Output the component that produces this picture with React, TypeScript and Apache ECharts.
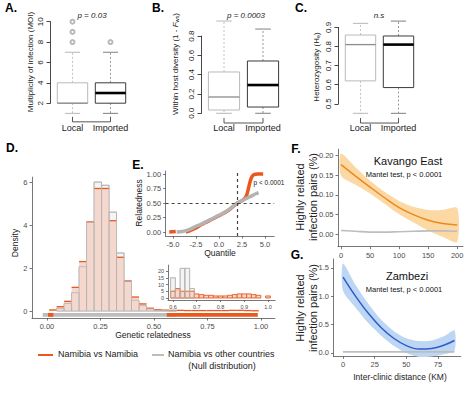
import React, { useEffect, useRef } from "react";
import * as echarts from "echarts";

const FONT = "'Liberation Sans', Arial, Helvetica, sans-serif";

// ---------- Panels A-C (box plots) ----------
const groups = ["Local", "Imported"];
// [lower whisker, q1, median, q3, upper whisker]
const moiBox = [
  [1, 2, 2, 4, 7],
  [1, 2, 3, 4, 7],
];
const moiOutliers = [
  [0, 8],
  [0, 9],
  [0, 10],
  [1, 8],
];
const moiTicks = [2, 4, 6, 8, 10];
const fwsBox = [
  [0.0, 0.034, 0.169, 0.428, 0.956],
  [0.0, 0.065, 0.293, 0.542, 0.873],
];
const fwsTicks = [0, 0.2, 0.4, 0.6, 0.8];
const heBox = [
  [0.45, 0.62, 0.81, 0.86, 0.921],
  [0.45, 0.585, 0.81, 0.855, 0.933],
];
const heTicks = [0.5, 0.6, 0.7, 0.8, 0.9];

// ---------- Panel D (histogram of genetic relatedness) ----------
const relEdges = [
  0.01, 0.045, 0.08, 0.115, 0.15, 0.185, 0.22, 0.255, 0.29, 0.325, 0.36, 0.395,
  0.43, 0.465, 0.5, 0.535, 0.57, 0.605, 0.64, 0.675, 0.71, 0.745, 0.78, 0.815,
  0.85, 0.885, 0.92, 0.955, 0.99,
];
const densNamibia = [
  0.05, 0.2, 0.45, 1.1, 2.3, 4.15, 5.7, 5.7, 4.2, 2.5, 1.4, 0.65, 0.33, 0.13,
  0.06, 0.04, 0.03, 0.03, 0.02, 0.02, 0.02, 0.02, 0.02, 0.02, 0.03, 0.03, 0.02,
  0.01,
];
const densNull = [
  0, 0.12, 0.35, 0.85, 2.06, 4.15, 6.0, 5.85, 4.6, 2.7, 1.4, 0.5, 0.25, 0.1,
  0.04, 0.02, 0.01, 0, 0, 0, 0, 0, 0, 0, 0, 0, 0, 0,
];
const rugNull = [[-0.02, 0.6]];
const rugNamibia = [
  [0.005, 0.03],
  [0.56, 0.985],
];

// ---------- Panel E (QQ plot + inset) ----------
const qqNullX = [-4.6, -4.0, -3.5, -3.0, -2.5, -2.0, -1.5, -1.0, -0.5, 0, 0.5, 1.0, 1.5, 2.0, 2.5, 3.0, 3.5, 4.0, 4.3];
const qqNullY = [0.0, 0.01, 0.03, 0.06, 0.1, 0.13, 0.17, 0.21, 0.25, 0.29, 0.33, 0.38, 0.44, 0.5, 0.54, 0.58, 0.62, 0.66, 0.68];
const qqNamLowX = [-5.4, -4.7];
const qqNamLowY = [0.0, 0.01];
const qqNamX = [-3.6, -3.2, -2.8, -2.4, -2.0, -1.5, -1.0, 0, 1.0, 2.0, 2.5, 2.8, 3.0, 3.2, 3.4, 3.6, 3.8, 4.2, 4.8];
const qqNamY = [0.0, 0.02, 0.05, 0.08, 0.12, 0.16, 0.2, 0.28, 0.37, 0.5, 0.54, 0.58, 0.63, 0.75, 0.88, 0.96, 0.99, 1.0, 1.0];
const qqThresholdY = 0.5;
const qqThresholdX = 2.0;

const insetEdges = [
  0.59, 0.61, 0.63, 0.65, 0.67, 0.69, 0.71, 0.73, 0.75, 0.77, 0.79, 0.81, 0.83,
  0.85, 0.87, 0.89, 0.91, 0.93, 0.95, 0.97, 0.99, 1.01,
];
const insetNamibia = [5, 7, 5, 5, 5, 3, 2.5, 2, 2, 1.5, 1.5, 1.5, 2, 2.5, 3, 3, 3, 2.5, 2, 0, 1.5];
const insetNull = [15, 6, 22, 22, 7, 0, 0, 0, 0, 0, 0, 0, 0, 0, 0, 0, 0, 0, 0, 0, 0];

// ---------- Panel F (Kavango East) ----------
const fDist = [0, 25, 50, 75, 100, 125, 150, 175, 200];
const fFit = [0.177, 0.148, 0.12, 0.093, 0.068, 0.05, 0.036, 0.028, 0.024];
const fLo = [0.149, 0.126, 0.104, 0.078, 0.051, 0.03, 0.01, -0.006, -0.019];
const fHi = [0.205, 0.17, 0.136, 0.108, 0.085, 0.07, 0.062, 0.062, 0.067];
const fNull = [0.01, 0.008, 0.006, 0.006, 0.007, 0.008, 0.009, 0.009, 0.008];

// ---------- Panel G (Zambezi) ----------
const gDist = [0, 10, 20, 30, 40, 50, 60, 70, 80, 88];
const gFit = [1.34, 1.0, 0.7, 0.45, 0.26, 0.13, 0.07, 0.08, 0.14, 0.22];
const gLo = [1.1, 0.8, 0.53, 0.31, 0.13, 0.0, -0.07, -0.06, -0.02, 0.04];
const gHi = [1.58, 1.2, 0.87, 0.59, 0.39, 0.26, 0.21, 0.22, 0.3, 0.4];
const gNull = [0.02, 0.02, 0.02, 0.02, 0.02, 0.02, 0.02, 0.02, 0.02, 0.02];

// ---------- colours ----------
const ORANGE = "#e9581f";
const PINK = "#f4d8cd";
const GREY = "#b4b4b4";

// ---------- render helpers ----------
const boxRender = (params: any, api: any) => {
  const c = api.value(0);
  const lw = api.value(1), q1 = api.value(2), med = api.value(3), q3 = api.value(4), uw = api.value(5);
  const cx = api.coord([c, med])[0];
  const half = api.size([1, 0])[0] * 0.4;
  const py = (v: number) => api.coord([c, v])[1];
  const dark = c === 1;
  const edge = dark ? "#3a3a3a" : "#b9b9b9";
  const wh = dark ? "#8a8a8a" : "#bdbdbd";
  const medC = dark ? "#000" : "#8c8c8c";
  const medW = dark ? 2.6 : 1.3;
  const cap = half * 0.5;
  return {
    type: "group",
    children: [
      { type: "line", shape: { x1: cx, y1: py(q3), x2: cx, y2: py(uw) }, style: { stroke: wh, lineWidth: 0.9, lineDash: [2, 2] } },
      { type: "line", shape: { x1: cx, y1: py(q1), x2: cx, y2: py(lw) }, style: { stroke: wh, lineWidth: 0.9, lineDash: [2, 2] } },
      { type: "line", shape: { x1: cx - cap, y1: py(uw), x2: cx + cap, y2: py(uw) }, style: { stroke: wh, lineWidth: 1.1 } },
      { type: "line", shape: { x1: cx - cap, y1: py(lw), x2: cx + cap, y2: py(lw) }, style: { stroke: wh, lineWidth: 1.1 } },
      { type: "rect", shape: { x: cx - half, y: py(q3), width: 2 * half, height: py(q1) - py(q3) }, style: { fill: "#fff", stroke: edge, lineWidth: 1 } },
      { type: "line", shape: { x1: cx - half, y1: py(med), x2: cx + half, y2: py(med) }, style: { stroke: medC, lineWidth: medW } },
    ],
  };
};

// rotated R-style tick labels for the box-plot y axes
const tickLabelRender = (fmt: (v: number) => string) => (params: any, api: any) => {
  const v = api.value(1);
  const p = api.coord([0, v]);
  return {
    type: "text",
    x: params.coordSys.x - 9,
    y: p[1],
    rotation: Math.PI / 2,
    style: { text: fmt(v), textAlign: "center", textVerticalAlign: "bottom", fontSize: 8, fill: "#222", fontFamily: FONT },
  };
};

const bracketRender = (lo: number) => (params: any, api: any) => {
  const a = api.coord([0, lo]);
  const b = api.coord([1, lo]);
  const y0 = a[1] + 1;
  const y1 = a[1] + 6;
  return {
    type: "polyline",
    shape: { points: [[a[0], y0], [a[0], y1], [b[0], y1], [b[0], y0]] },
    style: { stroke: "#444", lineWidth: 0.9, fill: "none" },
  };
};

const histRender = (fill: string, stroke: string, lw: number) => (params: any, api: any) => {
  const x0 = api.value(0), x1 = api.value(1), h = api.value(2);
  if (!h) return null;
  const p0 = api.coord([x0, 0]);
  const p1 = api.coord([x1, h]);
  return {
    type: "rect",
    shape: { x: p0[0], y: p1[1], width: p1[0] - p0[0], height: p0[1] - p1[1] },
    style: { fill, stroke, lineWidth: lw },
  };
};

// filled bar with only its top edge outlined
const histTopRender = (fill: string, stroke: string, lw: number) => (params: any, api: any) => {
  const x0 = api.value(0), x1 = api.value(1), h = api.value(2);
  if (!h) return null;
  const p0 = api.coord([x0, 0]);
  const p1 = api.coord([x1, h]);
  return {
    type: "group",
    children: [
      { type: "rect", shape: { x: p0[0], y: p1[1], width: p1[0] - p0[0], height: p0[1] - p1[1] }, style: { fill } },
      { type: "line", shape: { x1: p0[0], y1: p1[1], x2: p1[0], y2: p1[1] }, style: { stroke, lineWidth: lw } },
    ],
  };
};

const rugRender = (color: string) => (params: any, api: any) => {
  const p0 = api.coord([api.value(0), -0.09]);
  const p1 = api.coord([api.value(1), -0.27]);
  return {
    type: "rect",
    shape: { x: p0[0], y: p0[1], width: Math.max(1, p1[0] - p0[0]), height: p1[1] - p0[1] },
    style: { fill: color },
  };
};

const bandRender = (xs: number[], lo: number[], hi: number[], color: string) => (params: any, api: any) => {
  if (params.dataIndex !== 0) return null;
  const pts: number[][] = [];
  for (let i = 0; i < xs.length; i++) pts.push(api.coord([xs[i], hi[i]]));
  for (let i = xs.length - 1; i >= 0; i--) pts.push(api.coord([xs[i], lo[i]]));
  return { type: "polygon", shape: { points: pts, smooth: 0.25 }, style: { fill: color } };
};

const histData = (edges: number[], vals: number[]) => vals.map((v, i) => [edges[i], edges[i + 1], v]);
const pairs = (xs: number[], ys: number[]) => xs.map((x, i) => [x, ys[i]]);
const lo4 = (box: number[][]) => {
  const mn = Math.min(...box.map((b) => b[0]));
  const mx = Math.max(...box.map((b) => b[4]));
  return mn - 0.04 * (mx - mn);
};

// ---------- text helper ----------
const txt = (text: string, x: number, y: number, o: any = {}) => ({
  type: "text",
  x,
  y,
  rotation: o.rot || 0,
  silent: true,
  style: {
    text,
    fill: o.color || "#222",
    fontSize: o.size || 8,
    fontFamily: FONT,
    fontWeight: o.bold ? "bold" : "normal",
    fontStyle: o.italic ? "italic" : "normal",
    textAlign: o.align || "center",
    textVerticalAlign: "middle",
    lineHeight: o.lh,
    rich: o.rich,
  },
});

const ROT = Math.PI / 2;

// ---------- axis helpers ----------
const catX = (gi: number, margin: number) => ({
  type: "category",
  gridIndex: gi,
  data: groups,
  axisLine: { show: false },
  axisTick: { show: false },
  axisLabel: { fontSize: 9, color: "#222", margin, fontFamily: FONT, interval: 0, hideOverlap: false },
});
const boxY = (gi: number, min: number, max: number, interval: number) => ({
  type: "value",
  gridIndex: gi,
  min,
  max,
  interval,
  offset: 3,
  splitLine: { show: false },
  axisLine: { show: true, lineStyle: { color: "#333", width: 0.9 } },
  axisTick: { show: true, length: 4, lineStyle: { color: "#333", width: 0.9 } },
  axisLabel: { show: false },
});
const gg = (gi: number, min: number, max: number, ticks: number[], fmt: (v: number) => string, size = 7.5, tick = 2.5) => ({
  type: "value",
  gridIndex: gi,
  min,
  max,
  splitLine: { show: false },
  axisLine: { show: true, onZero: false, lineStyle: { color: "#555", width: 0.8 } },
  axisTick: { show: true, length: tick, customValues: ticks, lineStyle: { color: "#555", width: 0.8 } },
  axisLabel: { fontSize: size, color: "#4d4d4d", margin: tick + 2, customValues: ticks, formatter: fmt, fontFamily: FONT },
});

function buildOption(): any {
  const f1 = (v: number) => v.toFixed(1);
  const f2 = (v: number) => v.toFixed(2);
  const f0 = (v: number) => String(v);
  const ticks = (gi: number, vals: number[], fmt: (v: number) => string) => ({
    type: "custom",
    xAxisIndex: gi,
    yAxisIndex: gi,
    renderItem: tickLabelRender(fmt),
    data: vals.map((v) => [0, v]),
    encode: { x: 0, y: 1 },
  });
  return {
    animation: false,
    backgroundColor: "#fff",
    textStyle: { fontFamily: FONT },
    grid: [
      { left: 53.5, top: 21.7, width: 76, height: 81.5 }, // A
      { left: 204.5, top: 36.1, width: 78, height: 77.2 }, // B
      { left: 341.5, top: 27.4, width: 76, height: 76.4 }, // C
      { left: 32, top: 177.1, width: 242.9, height: 141 }, // D
      { left: 165.6, top: 171, width: 108.6, height: 65.1 }, // E
      { left: 168, top: 265.1, width: 107.1, height: 34.9 }, // E inset
      { left: 338, top: 149.2, width: 125, height: 97.5 }, // F
      { left: 333.5, top: 258.9, width: 127.3, height: 97.5 }, // G
    ],
    xAxis: [
      catX(0, 20),
      catX(1, 10),
      catX(2, 19.7),
      gg(3, -0.07, 1.065, [0, 0.25, 0.5, 0.75, 1], f2),
      gg(4, -5.8, 6.0, [-5, -2.5, 0, 2.5, 5], f1),
      gg(5, 0.579, 1.03, [0.6, 0.7, 0.8, 0.9, 1.0], f1, 5.5, 2),
      gg(6, -5.2, 210, [0, 50, 100, 150, 200], f0),
      gg(7, -7.5, 93, [0, 25, 50, 75], f0),
    ],
    yAxis: [
      boxY(0, 2, 10, 2),
      boxY(1, 0, 0.8, 0.2),
      boxY(2, 0.5, 0.9, 0.1),
      gg(3, -0.33, 6.23, [0, 2, 4, 6], f0),
      gg(4, -0.07, 1.052, [0, 0.25, 0.5, 0.75, 1], f2),
      gg(5, -1.5, 24.4, [0, 5, 10, 15, 20], f0, 5.5, 2),
      gg(6, -0.031, 0.216, [0, 0.05, 0.1, 0.15, 0.2], f2),
      gg(7, -0.06, 1.66, [0, 0.5, 1, 1.5], f1),
    ],
    series: [
      // A
      { type: "custom", xAxisIndex: 0, yAxisIndex: 0, renderItem: boxRender, data: moiBox.map((b, i) => [i, ...b]), encode: { x: 0, y: [1, 2, 3, 4, 5] } },
      { type: "scatter", xAxisIndex: 0, yAxisIndex: 0, symbol: "emptyCircle", symbolSize: 4, itemStyle: { color: "#a8a8a8", borderWidth: 1 }, data: moiOutliers },
      { type: "custom", xAxisIndex: 0, yAxisIndex: 0, renderItem: bracketRender(lo4(moiBox)), data: [[0, lo4(moiBox)]], encode: { x: 0, y: 1 } },
      ticks(0, moiTicks, f0),
      // B
      { type: "custom", xAxisIndex: 1, yAxisIndex: 1, renderItem: boxRender, data: fwsBox.map((b, i) => [i, ...b]), encode: { x: 0, y: [1, 2, 3, 4, 5] } },
      { type: "custom", xAxisIndex: 1, yAxisIndex: 1, renderItem: bracketRender(lo4(fwsBox)), data: [[0, lo4(fwsBox)]], encode: { x: 0, y: 1 } },
      ticks(1, fwsTicks, f1),
      // C
      { type: "custom", xAxisIndex: 2, yAxisIndex: 2, renderItem: boxRender, data: heBox.map((b, i) => [i, ...b]), encode: { x: 0, y: [1, 2, 3, 4, 5] } },
      { type: "custom", xAxisIndex: 2, yAxisIndex: 2, renderItem: bracketRender(lo4(heBox)), data: [[0, lo4(heBox)]], encode: { x: 0, y: 1 } },
      ticks(2, heTicks, f1),
      // D
      { type: "custom", xAxisIndex: 3, yAxisIndex: 3, renderItem: histRender("#f4f4f4", GREY, 0.8), data: histData(relEdges, densNull), encode: { x: [0, 1], y: 2 } },
      { type: "custom", xAxisIndex: 3, yAxisIndex: 3, renderItem: histTopRender(PINK, ORANGE, 1.3), data: histData(relEdges, densNamibia), encode: { x: [0, 1], y: 2 } },
      { type: "custom", xAxisIndex: 3, yAxisIndex: 3, renderItem: histRender("none", GREY, 0.8), data: histData(relEdges, densNull), encode: { x: [0, 1], y: 2 } },
      { type: "custom", xAxisIndex: 3, yAxisIndex: 3, renderItem: rugRender("#bdbdbd"), data: rugNull, encode: { x: [0, 1] } },
      { type: "custom", xAxisIndex: 3, yAxisIndex: 3, renderItem: rugRender(ORANGE), data: rugNamibia, encode: { x: [0, 1] } },
      // E
      { type: "line", xAxisIndex: 4, yAxisIndex: 4, data: pairs(qqNamLowX, qqNamLowY), symbol: "none", lineStyle: { color: ORANGE, width: 3.5 } },
      { type: "line", xAxisIndex: 4, yAxisIndex: 4, data: pairs(qqNamX, qqNamY), symbol: "none", smooth: 0.3, lineStyle: { color: ORANGE, width: 3.5 } },
      {
        type: "line", xAxisIndex: 4, yAxisIndex: 4, data: pairs(qqNullX, qqNullY), symbol: "none", smooth: 0.3,
        lineStyle: { color: "#b3b3b3", width: 3.5 },
        markLine: {
          silent: true, symbol: "none", label: { show: false },
          lineStyle: { color: "#444", width: 1.2, type: [3, 3] },
          data: [{ yAxis: qqThresholdY }, { xAxis: qqThresholdX }],
        },
      },
      // E inset
      { type: "custom", xAxisIndex: 5, yAxisIndex: 5, renderItem: histRender("#f4f4f4", GREY, 0.7), data: histData(insetEdges, insetNull), encode: { x: [0, 1], y: 2 } },
      { type: "custom", xAxisIndex: 5, yAxisIndex: 5, renderItem: histRender(PINK, ORANGE, 0.9), data: histData(insetEdges, insetNamibia), encode: { x: [0, 1], y: 2 } },
      { type: "custom", xAxisIndex: 5, yAxisIndex: 5, renderItem: histRender("none", GREY, 0.7), data: histData(insetEdges, insetNull), encode: { x: [0, 1], y: 2 } },
      // F
      { type: "custom", xAxisIndex: 6, yAxisIndex: 6, renderItem: bandRender(fDist, fLo, fHi, "#fcd8a4"), data: fDist.map((x, i) => [x, fLo[i], fHi[i]]), encode: { x: 0, y: [1, 2] } },
      { type: "line", xAxisIndex: 6, yAxisIndex: 6, data: pairs(fDist, fNull), symbol: "none", smooth: 0.4, lineStyle: { color: "#bdbdbd", width: 1.6 } },
      { type: "line", xAxisIndex: 6, yAxisIndex: 6, data: pairs(fDist, fFit), symbol: "none", smooth: 0.4, lineStyle: { color: "#ec8a1a", width: 1.5 } },
      // G
      { type: "custom", xAxisIndex: 7, yAxisIndex: 7, renderItem: bandRender(gDist, gLo, gHi, "#bcd6f3"), data: gDist.map((x, i) => [x, gLo[i], gHi[i]]), encode: { x: 0, y: [1, 2] } },
      { type: "line", xAxisIndex: 7, yAxisIndex: 7, data: pairs(gDist, gNull), symbol: "none", smooth: 0.4, lineStyle: { color: "#bdbdbd", width: 1.6 } },
      { type: "line", xAxisIndex: 7, yAxisIndex: 7, data: pairs(gDist, gFit), symbol: "none", smooth: 0.4, lineStyle: { color: "#2f5bcc", width: 1.5 } },
    ],
    graphic: [
      txt("A.", 11, 8, { bold: true, size: 12, color: "#000" }),
      txt("B.", 158, 8, { bold: true, size: 12, color: "#000" }),
      txt("C.", 301, 8, { bold: true, size: 12, color: "#000" }),
      txt("D.", 12, 148, { bold: true, size: 12, color: "#000" }),
      txt("E.", 138, 165, { bold: true, size: 12, color: "#000" }),
      txt("F.", 296, 149, { bold: true, size: 12, color: "#000" }),
      txt("G.", 297, 255, { bold: true, size: 12, color: "#000" }),
      txt("p = 0.03", 92, 15, { italic: true }),
      txt("p = 0.0003", 246, 15, { italic: true }),
      txt("n.s", 379, 15, { italic: true }),
      txt("Multiplicity of infection (MOI)", 30, 62, { rot: ROT }),
      txt("Within host diversity (1 - {i|F}{s|ws})", 175, 64, {
        rot: ROT,
        rich: { i: { fontStyle: "italic", fontSize: 8, fontFamily: FONT, fill: "#222" }, s: { fontSize: 5.5, fontFamily: FONT, fill: "#222", verticalAlign: "bottom", padding: [4, 0, 0, 0] } },
      }),
      txt("Heterozygosity (H{s|e})", 316, 67, {
        rot: ROT,
        rich: { s: { fontSize: 5.5, fontFamily: FONT, fill: "#222", verticalAlign: "bottom", padding: [4, 0, 0, 0] } },
      }),
      txt("Density", 15, 243, { rot: ROT, size: 8.5 }),
      txt("Genetic relatedness", 153, 335, { size: 8.5 }),
      txt("Relatedness", 139, 203, { rot: ROT, size: 8.5 }),
      txt("Quantile", 220, 253, { size: 8.5 }),
      txt("p < 0.0001", 269, 182, { size: 6.5 }),
      txt("Highly related\ninfection pairs (%)", 306, 197, { rot: ROT, size: 11, lh: 13 }),
      txt("Kavango East", 408, 161, { size: 11, color: "#111" }),
      txt("Mantel test, p < 0.0001", 404, 174, { size: 7.5, color: "#111" }),
      txt("Highly related\ninfection pairs (%)", 306, 308, { rot: ROT, size: 11, lh: 13 }),
      txt("Zambezi", 407, 276, { size: 11, color: "#111" }),
      txt("Mantel test, p < 0.0001", 404, 289, { size: 7.5, color: "#111" }),
      txt("Inter-clinic distance (KM)", 400, 377, { size: 8.5 }),
      // legend
      { type: "line", shape: { x1: 38, y1: 355, x2: 53, y2: 355 }, style: { stroke: ORANGE, lineWidth: 2 } },
      txt("Namibia vs Namibia", 58, 354, { size: 9, align: "left" }),
      { type: "line", shape: { x1: 152, y1: 355, x2: 164, y2: 355 }, style: { stroke: "#bdbdbd", lineWidth: 2 } },
      txt("Namibia vs other countries", 168, 354, { size: 9, align: "left" }),
      txt("(Null distribution)", 222, 366, { size: 9 }),
    ],
  };
}

export default function App() {
  const ref = useRef<HTMLDivElement>(null);
  useEffect(() => {
    const chart = echarts.init(ref.current!, null, { renderer: "svg" });
    chart.setOption(buildOption());
    return () => chart.dispose();
  }, []);
  return <div ref={ref} style={{ position: "absolute", left: 0, top: 0, width: 474, height: 394 }} />;
}
